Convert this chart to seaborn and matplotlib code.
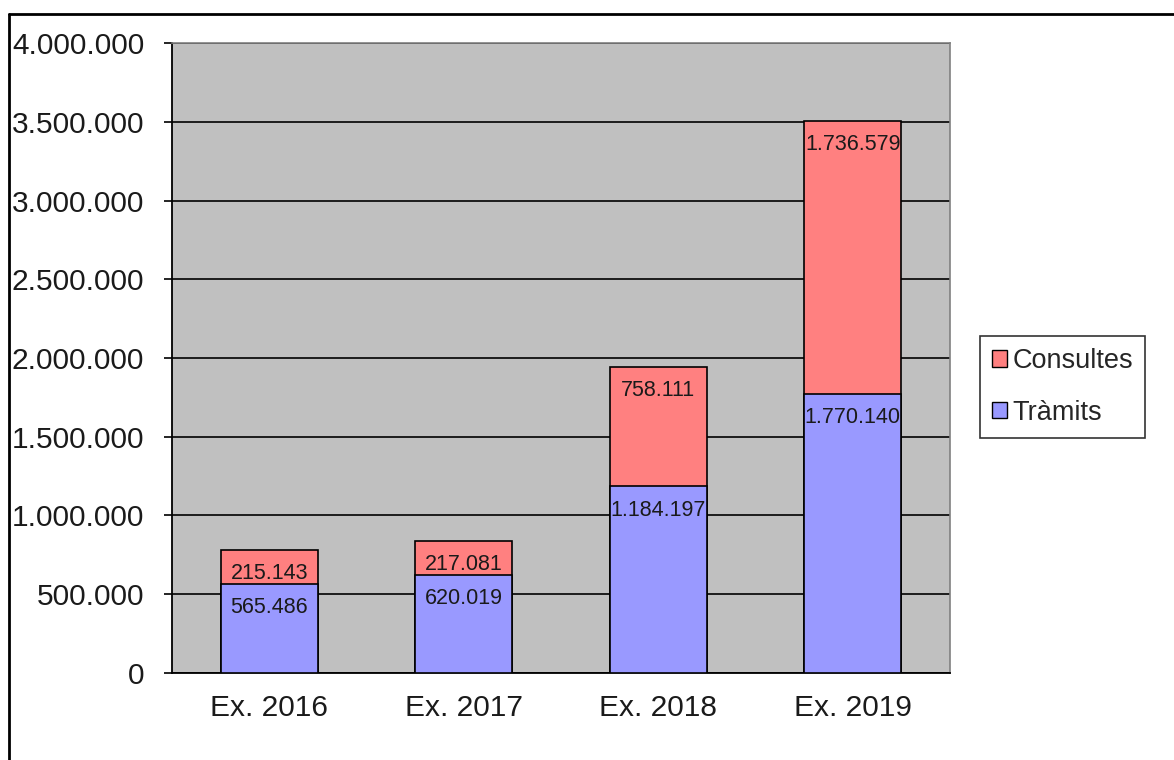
import numpy as np
import pandas as pd
import matplotlib
matplotlib.use("Agg")
import matplotlib.pyplot as plt
import seaborn as sns
from matplotlib.patches import Patch
from matplotlib.ticker import FuncFormatter, MultipleLocator

# Data
exercicis = ["Ex. 2016", "Ex. 2017", "Ex. 2018", "Ex. 2019"]
tramits = [565486, 620019, 1184197, 1770140]
consultes = [215143, 217081, 758111, 1736579]

df = pd.DataFrame({"exercici": exercicis, "Tràmits": tramits, "Consultes": consultes})
df["total"] = df["Tràmits"] + df["Consultes"]

col_consultes = "#FF8080"
col_tramits = "#9999FF"

sns.set_style("white")
plt.rcParams["font.family"] = ["Liberation Sans", "DejaVu Sans"]


def fmt(v, pos=None):
    return f"{int(round(v)):,}".replace(",", ".")


fig = plt.figure(figsize=(11.74, 7.6), dpi=100)
ax = fig.add_axes([0.1465, 0.1145, 0.6627, 0.8289])
ax.set_facecolor("#C0C0C0")

# stacked bars: total first (consultes colour), then tràmits over it
sns.barplot(data=df, x="exercici", y="total", color=col_consultes, width=0.5,
            edgecolor="black", linewidth=1.2, saturation=1, ax=ax, zorder=3)
sns.barplot(data=df, x="exercici", y="Tràmits", color=col_tramits, width=0.5,
            edgecolor="black", linewidth=1.2, saturation=1, ax=ax, zorder=4)

# value labels near the top of each segment
for i, row in df.iterrows():
    ax.annotate(fmt(row["Consultes"]), (i, row["total"]), xytext=(0, -17),
                textcoords="offset points", ha="center", va="center",
                fontsize=15.5, color="#1a1a1a", zorder=5)
    ax.annotate(fmt(row["Tràmits"]), (i, row["Tràmits"]), xytext=(0, -17),
                textcoords="offset points", ha="center", va="center",
                fontsize=15.5, color="#1a1a1a", zorder=5)

ax.set_ylim(0, 4000000)
ax.set_xlim(-0.5, 3.5)
ax.yaxis.set_major_locator(MultipleLocator(500000))
ax.yaxis.set_major_formatter(FuncFormatter(fmt))
ax.grid(axis="y", color="black", linewidth=1.2, zorder=1)
ax.set_axisbelow(True)
ax.set_xlabel("")
ax.set_ylabel("")

# x ticks at category boundaries, labels centred
ax.set_xticks(np.arange(-0.5, 4, 1))
ax.set_xticklabels([])
ax.set_xticks(np.arange(4), minor=True)
ax.set_xticklabels(exercicis, minor=True)
ax.tick_params(axis="x", which="major", direction="out", length=6, width=1.2, color="black")
ax.tick_params(axis="x", which="minor", length=0, pad=15, labelsize=21.5, labelcolor="#1a1a1a")
ax.tick_params(axis="y", direction="out", length=6, width=1.2, color="black", pad=14,
               labelsize=21.5, labelcolor="#1a1a1a", left=True)

for side in ["left", "bottom"]:
    ax.spines[side].set_color("black")
    ax.spines[side].set_linewidth(1.3)
for side in ["top", "right"]:
    ax.spines[side].set_visible(True)
    ax.spines[side].set_color("#808080")
    ax.spines[side].set_linewidth(1.2)

handles = [Patch(facecolor=col_consultes, edgecolor="black", label="Consultes"),
           Patch(facecolor=col_tramits, edgecolor="black", label="Tràmits")]
leg = fig.legend(handles=handles, loc="center", bbox_to_anchor=(0.905, 0.491),
                 fontsize=19.5, fancybox=False, frameon=True, handlelength=0.55,
                 handleheight=0.55, handletextpad=0.2, labelspacing=0.95,
                 borderpad=0.45)
leg.get_frame().set_edgecolor("black")
leg.get_frame().set_linewidth(1.2)

# outer chart frame (left and top edges visible)
fig.add_artist(plt.Line2D([0.0077, 0.0077], [0, 0.982], color="black", linewidth=2,
                          transform=fig.transFigure))
fig.add_artist(plt.Line2D([0.0077, 1], [0.982, 0.982], color="black", linewidth=2,
                          transform=fig.transFigure))

fig.savefig("out.png", dpi=100, facecolor="white")
